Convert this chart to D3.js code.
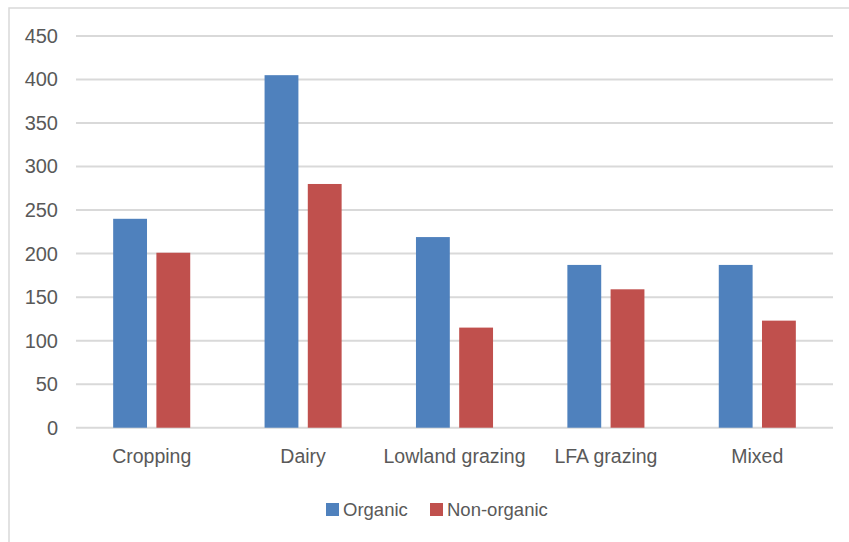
<!DOCTYPE html>
<html>
<head>
<meta charset="utf-8">
<script src="https://cdn.jsdelivr.net/npm/d3@7"></script>
<style>
  body { margin: 0; background: #fff; }
  text { font-family: "Liberation Sans", Arial, sans-serif; fill: #595959; }
</style>
</head>
<body>
<svg id="chart"></svg>
<script>
// farm types and the two series
const categories = ["Cropping", "Dairy", "Lowland grazing", "LFA grazing", "Mixed"];
const seriesNames = ["Organic", "Non-organic"];
const organic = [240, 405, 219, 187, 187];
const nonOrganic = [201, 280, 115, 159, 123];
const yTicks = [0, 50, 100, 150, 200, 250, 300, 350, 400, 450];
const colours = ["#4F81BD", "#C0504D"];

const W = 849, H = 542;
const svg = d3.select("#chart").attr("width", W).attr("height", H);

// chart frame (cut off on right and bottom like the screenshot)
svg.append("rect")
    .attr("x", 9).attr("y", 8)
    .attr("width", W + 20).attr("height", H + 20)
    .attr("fill", "none")
    .attr("stroke", "#D9D9D9")
    .attr("stroke-width", 1.5);

const plot = { left: 76, right: 833, top: 36, bottom: 427.7 };

const x0 = d3.scaleBand()
    .domain(categories)
    .range([plot.left, plot.right])
    .paddingInner(0).paddingOuter(0);

const x1 = d3.scaleBand()
    .domain(seriesNames)
    .range([0, x0.bandwidth()])
    .paddingInner(0.217)
    .paddingOuter(0.86);

const y = d3.scaleLinear()
    .domain([0, 450])
    .range([plot.bottom, plot.top]);

// gridlines
svg.append("g")
    .selectAll("line")
    .data(yTicks)
    .enter()
    .append("line")
    .attr("x1", plot.left)
    .attr("x2", plot.right)
    .attr("y1", d => y(d))
    .attr("y2", d => y(d))
    .attr("stroke", "#D9D9D9")
    .attr("stroke-width", 2);

// y axis labels
const yAxis = d3.axisLeft(y).tickValues(yTicks).tickSize(0).tickPadding(18);
svg.append("g")
    .attr("transform", `translate(${plot.left}, 0)`)
    .call(yAxis)
    .call(g => g.select(".domain").remove())
    .selectAll("text")
    .attr("font-size", "20px")
    .attr("font-family", "Liberation Sans, Arial, sans-serif")
    .attr("fill", "#595959");

// x axis labels
const xAxis = d3.axisBottom(x0).tickSize(0).tickPadding(21);
svg.append("g")
    .attr("transform", `translate(0, ${plot.bottom})`)
    .call(xAxis)
    .call(g => g.select(".domain").remove())
    .selectAll("text")
    .attr("font-size", "19.5px")
    .attr("font-family", "Liberation Sans, Arial, sans-serif")
    .attr("fill", "#595959");

// bars
const rows = categories.map((c, i) => ({ cat: c, values: [organic[i], nonOrganic[i]] }));
const groups = svg.append("g")
    .selectAll("g")
    .data(rows)
    .enter()
    .append("g")
    .attr("transform", d => `translate(${x0(d.cat)}, 0)`);

groups.selectAll("rect")
    .data(d => d.values.map((v, j) => ({ name: seriesNames[j], value: v, j: j })))
    .enter()
    .append("rect")
    .attr("x", d => x1(d.name))
    .attr("y", d => y(d.value))
    .attr("width", x1.bandwidth())
    .attr("height", d => y(0) - y(d.value))
    .attr("fill", d => colours[d.j]);

// legend
const legendItems = [
    { name: seriesNames[0], x: 326, color: colours[0] },
    { name: seriesNames[1], x: 430, color: colours[1] }
];
const legend = svg.append("g");
legend.selectAll("rect")
    .data(legendItems)
    .enter()
    .append("rect")
    .attr("x", d => d.x)
    .attr("y", 503)
    .attr("width", 13)
    .attr("height", 13)
    .attr("fill", d => d.color);
legend.selectAll("text")
    .data(legendItems)
    .enter()
    .append("text")
    .attr("x", d => d.x + 17)
    .attr("y", 509.5)
    .attr("dy", "0.35em")
    .attr("font-size", "18.5px")
    .text(d => d.name);
</script>
</body>
</html>
